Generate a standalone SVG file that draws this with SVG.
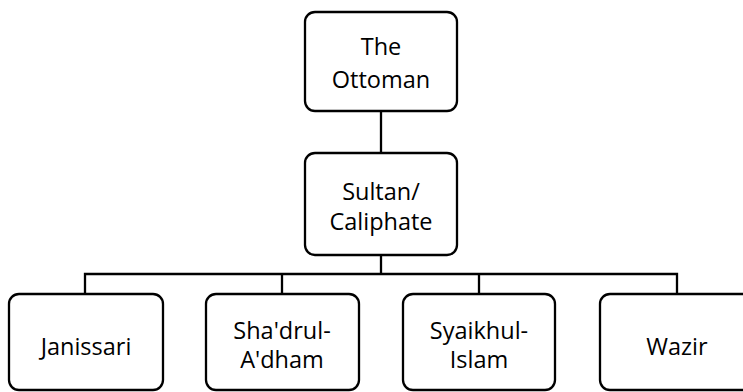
<svg xmlns="http://www.w3.org/2000/svg" width="743" height="392" viewBox="0 0 743 392">
<style>
.box{fill:#fff;stroke:#000;stroke-width:2.3}
.conn{fill:none;stroke:#000;stroke-width:2.3}
text{font-family:"Open Sans","Noto Sans",sans-serif;font-size:23.5px;fill:#000;text-anchor:middle}
</style>
<rect width="743" height="392" fill="#fff"/>
<g id="connectors">
<line class="conn" x1="381" y1="111" x2="381" y2="153"/>
<line class="conn" x1="381" y1="255" x2="381" y2="274"/>
<polyline class="conn" points="85,294 85,274 677,274 677,294"/>
<line class="conn" x1="282" y1="274" x2="282" y2="294"/>
<line class="conn" x1="479" y1="274" x2="479" y2="294"/>
</g>
<g id="ottoman">
<rect class="box" x="305" y="12" width="152" height="99" rx="10"/>
<text x="381" y="55">The</text>
<text x="381" y="88">Ottoman</text>
</g>
<g id="sultan">
<rect class="box" x="305" y="153" width="152" height="102" rx="10"/>
<text x="381" y="200">Sultan/</text>
<text x="381" y="230">Caliphate</text>
</g>
<g id="janissari">
<rect class="box" x="9" y="294" width="154" height="96" rx="10"/>
<text x="86" y="355">Janissari</text>
</g>
<g id="shadrul">
<rect class="box" x="206" y="294" width="153" height="96" rx="10"/>
<text x="282" y="339">Sha'drul-</text>
<text x="282" y="368">A'dham</text>
</g>
<g id="syaikhul">
<rect class="box" x="403" y="294" width="152" height="96" rx="10"/>
<text x="479" y="339">Syaikhul-</text>
<text x="479" y="368">Islam</text>
</g>
<g id="wazir">
<rect class="box" x="600" y="294" width="154" height="96" rx="10"/>
<text x="677" y="355">Wazir</text>
</g>
</svg>
